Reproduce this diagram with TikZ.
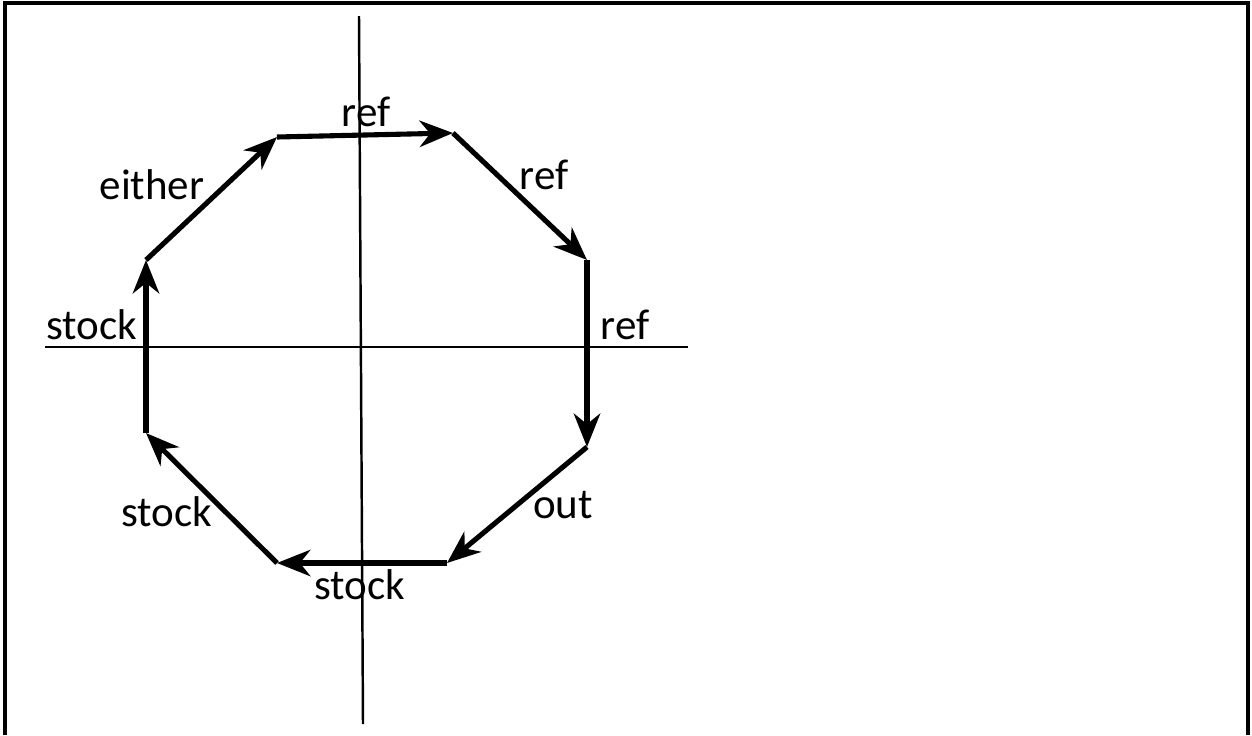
\documentclass[tikz,border=0pt]{standalone}
\usepackage{fontspec}
\setmainfont{Carlito}
\usetikzlibrary{arrows.meta}

\begin{document}
\begin{tikzpicture}[x=0.02cm,y=-0.02cm,font=\fontsize{24.5}{29}\selectfont,
  cote/.style={line width=2.9pt,-{Stealth[length=19pt,width=15pt,inset=6pt]}},
  axe/.style={line width=1.4pt},
  lbl/.style={inner sep=0pt}]
  \useasboundingbox (0,0) rectangle (1252,735);
  % cadre
  \draw[line width=1.9pt] (5,735) -- (5,3) -- (1248,3) -- (1248,735);
  % axes
  \coordinate (yh) at (359,16);
  \coordinate (yb) at (363,724);
  \coordinate (xg) at (45,347);
  \coordinate (xd) at (688,347);
  \draw[axe] (yh) -- (yb);
  \draw[axe] (xg) -- (xd);
  % sommets de l'octogone
  \foreach \n/\x/\y in {a/146/260, b/277/137, c/453/133, d/587/260,
                        e/587/447, f/447/563, g/277/563, h/146/433}
    \coordinate (\n) at (\x,\y);
  % cotes : depart / arrivee
  \foreach \p/\q in {h/a, a/b, b/c, c/d, d/e, e/f, f/g, g/h}
    \draw[cote] (\p) -- (\q);
  % etiquettes
  \node[lbl] (either) at (152,185) {either};
  \node[lbl] (refhaut) at (366,112) {ref};
  \node[lbl] (refdiag) at (544,175) {ref};
  \node[lbl] (refdroit) at (625,325) {ref};
  \node[lbl] (stockg) at (92,325) {stock};
  \node[lbl] (out) at (563,505) {out};
  \node[lbl] (stockbg) at (167,512) {stock};
  \node[lbl] (stockbas) at (360,585) {stock};
\end{tikzpicture}
\end{document}
